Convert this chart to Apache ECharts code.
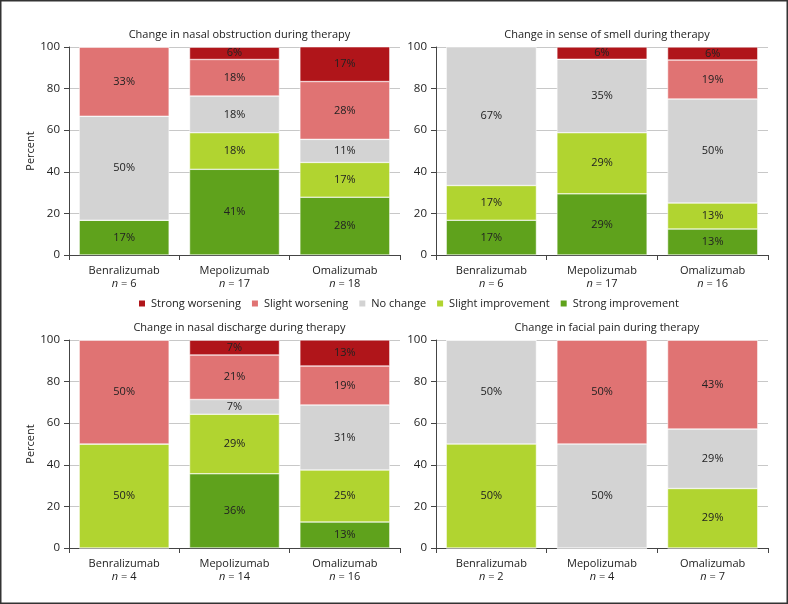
<!DOCTYPE html>
<html>
<head>
<meta charset="utf-8">
<script src="https://cdn.jsdelivr.net/npm/echarts@6/dist/echarts.min.js"></script>
<style>
html,body{margin:0;padding:0;background:#fff;}
#chart{width:788px;height:604px;}
</style>
</head>
<body>
<div id="chart"></div>
<script>
// ---- data ----
const categories = ['Benralizumab', 'Mepolizumab', 'Omalizumab'];
const panelTitles = [
  'Change in nasal obstruction during therapy',
  'Change in sense of smell during therapy',
  'Change in nasal discharge during therapy',
  'Change in facial pain during therapy'
];
const legendOrder = ['Strong worsening', 'Slight worsening', 'No change', 'Slight improvement', 'Strong improvement'];
const stackOrder = ['Strong improvement', 'Slight improvement', 'No change', 'Slight worsening', 'Strong worsening'];

// Nasal obstruction
const obstructionN = [6, 17, 18];
const obstructionStrongImp = [16.7, 41.2, 27.8];
const obstructionSlightImp = [0, 17.6, 16.7];
const obstructionNoChange = [50.0, 17.6, 11.1];
const obstructionSlightWorse = [33.3, 17.6, 27.8];
const obstructionStrongWorse = [0, 5.9, 16.7];

// Sense of smell
const smellN = [6, 17, 16];
const smellStrongImp = [16.7, 29.4, 12.5];
const smellSlightImp = [16.7, 29.4, 12.5];
const smellNoChange = [66.7, 35.3, 50.0];
const smellSlightWorse = [0, 0, 18.75];
const smellStrongWorse = [0, 5.9, 6.25];

// Nasal discharge
const dischargeN = [4, 14, 16];
const dischargeStrongImp = [0, 35.7, 12.5];
const dischargeSlightImp = [50.0, 28.6, 25.0];
const dischargeNoChange = [0, 7.1, 31.25];
const dischargeSlightWorse = [50.0, 21.4, 18.75];
const dischargeStrongWorse = [0, 7.1, 12.5];

// Facial pain
const painN = [2, 4, 7];
const painStrongImp = [0, 0, 0];
const painSlightImp = [50.0, 0, 28.6];
const painNoChange = [50.0, 50.0, 28.6];
const painSlightWorse = [0, 50.0, 42.8];
const painStrongWorse = [0, 0, 0];

const yTicks = [0, 20, 40, 60, 80, 100];

// ---- styling ----
const FONT = 'Open Sans';
const FS = 11;
const colors = {
  'Strong worsening': '#B0151A',
  'Slight worsening': '#E07373',
  'No change': '#D3D3D3',
  'Slight improvement': '#B1D430',
  'Strong improvement': '#5FA21C'
};

const panels = [
  { n: obstructionN, vals: [obstructionStrongImp, obstructionSlightImp, obstructionNoChange, obstructionSlightWorse, obstructionStrongWorse] },
  { n: smellN, vals: [smellStrongImp, smellSlightImp, smellNoChange, smellSlightWorse, smellStrongWorse] },
  { n: dischargeN, vals: [dischargeStrongImp, dischargeSlightImp, dischargeNoChange, dischargeSlightWorse, dischargeStrongWorse] },
  { n: painN, vals: [painStrongImp, painSlightImp, painNoChange, painSlightWorse, painStrongWorse] }
];

const gridPos = [
  { left: 69, top: 47, width: 331, height: 208 },
  { left: 436, top: 47, width: 332, height: 208 },
  { left: 69, top: 340, width: 331, height: 208 },
  { left: 436, top: 340, width: 332, height: 208 }
];

const titleCfg = [
  { x: 234.5, y: 24 },
  { x: 602, y: 24 },
  { x: 234.5, y: 317 },
  { x: 602, y: 317 }
];

const option = {
  animation: false,
  textStyle: { fontFamily: FONT },
  title: panelTitles.map((t, i) => ({
    text: t,
    left: titleCfg[i].x,
    top: titleCfg[i].y,
    textAlign: 'center',
    textStyle: { fontFamily: FONT, fontSize: FS, fontWeight: 'normal', color: '#222' }
  })),
  legend: {
    data: legendOrder,
    left: 137,
    top: 298,
    padding: 0,
    icon: 'rect',
    itemWidth: 8,
    itemHeight: 8,
    itemGap: 9,
    textStyle: { fontFamily: FONT, fontSize: FS, color: '#222' }
  },
  grid: gridPos.map(g => Object.assign({ containLabel: false }, g)),
  xAxis: panels.map((p, i) => ({
    type: 'category',
    gridIndex: i,
    data: categories,
    axisLine: { lineStyle: { color: '#444', width: 1 } },
    axisTick: { show: true, length: 5, lineStyle: { color: '#444' } },
    axisLabel: {
      color: '#222',
      fontFamily: FONT,
      fontSize: FS,
      lineHeight: 13,
      margin: 9,
      interval: 0,
      formatter: (v, idx) => v + '\n{it|n} = ' + p.n[idx],
      rich: { it: { fontStyle: 'italic', fontFamily: FONT, fontSize: FS, lineHeight: 13, color: '#222' } }
    }
  })),
  yAxis: panels.map((p, i) => ({
    type: 'value',
    gridIndex: i,
    min: 0,
    max: 100,
    interval: 20,
    name: (i % 2 === 0) ? 'Percent' : '',
    nameLocation: 'middle',
    nameGap: 33,
    nameTextStyle: { fontFamily: FONT, fontSize: FS, color: '#222' },
    axisLine: { show: true, lineStyle: { color: '#444', width: 1 } },
    axisTick: { show: true, length: 5, lineStyle: { color: '#444' } },
    axisLabel: { color: '#222', fontFamily: FONT, fontSize: FS + 0.5, margin: 9 },
    splitLine: { show: true, lineStyle: { color: '#C8C8C8', width: 1 } }
  })),
  graphic: [{
    type: 'rect',
    shape: { x: 0.75, y: 0.75, width: 786.5, height: 602.5 },
    style: { fill: 'none', stroke: '#333', lineWidth: 1.5 },
    silent: true
  }],
  series: []
};

panels.forEach((p, i) => {
  stackOrder.forEach((name, k) => {
    option.series.push({
      name: name,
      type: 'bar',
      xAxisIndex: i,
      yAxisIndex: i,
      stack: 'panel' + i,
      barCategoryGap: '18.5%',
      data: p.vals[k],
      itemStyle: { color: colors[name], borderColor: '#fff', borderWidth: 0.5 },
      label: {
        show: true,
        position: 'inside',
        fontFamily: FONT,
        fontSize: FS,
        color: '#222',
        formatter: (d) => d.value > 0 ? Math.round(d.value) + '%' : ''
      }
    });
  });
});

const chart = echarts.init(document.getElementById('chart'), null, { renderer: 'canvas' });
chart.setOption(option);
</script>
</body>
</html>
